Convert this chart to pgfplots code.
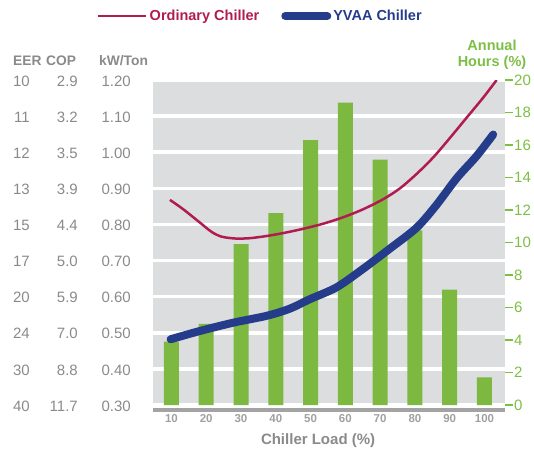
\documentclass[border=0pt]{standalone}
\usepackage{pgfplots}
\pgfplotsset{compat=1.18}
\usepackage{fontspec}
\setmainfont{Liberation Sans}
\definecolor{bggray}{HTML}{DCDDDF}
\definecolor{ordred}{HTML}{B01C50}
\definecolor{yvaablue}{HTML}{253C8A}
\definecolor{bargreen}{HTML}{7DB940}
\definecolor{lblgray}{HTML}{8A8A8A}
\definecolor{xgray}{HTML}{A0A0A0}
\definecolor{axgray}{HTML}{A3A3A3}
\definecolor{hgreen}{HTML}{7DBE45}
\newcommand{\trip}[3]{\makebox[20bp][r]{#1}\makebox[48bp][r]{#2}\makebox[53bp][r]{#3}}
\pgfplotsset{base/.style={at={(0,0)}, anchor=south west, scale only axis, width=352bp, height=330bp, xmin=4.7, xmax=105.9}}
\begin{document}
\begin{tikzpicture}
\useasboundingbox (-153bp,-40bp) rectangle (381bp,410bp);
% background axis with grid and left labels
\begin{axis}[base, ymin=0.28615, ymax=1.2, clip=false,
  axis background/.style={fill=bggray},
  axis line style={draw=none}, major tick length=0pt,
  ytick={0.3,0.4,0.5,0.6,0.7,0.8,0.9,1.0,1.1,1.2},
  yticklabels={\trip{40}{11.7}{0.30},\trip{30}{8.8}{0.40},\trip{24}{7.0}{0.50},\trip{20}{5.9}{0.60},\trip{17}{5.0}{0.70},\trip{15}{4.4}{0.80},\trip{13}{3.9}{0.90},\trip{12}{3.5}{1.00},\trip{11}{3.2}{1.10},\trip{10}{2.9}{1.20}},
  yticklabel style={font=\fontsize{15bp}{18bp}\selectfont, text=lblgray, anchor=east, inner xsep=0pt, xshift=-22bp, yshift=-1bp},
  ymajorgrids, grid style={white, line width=3.5bp},
  xtick={10,20,30,40,50,60,70,80,90,100},
  xticklabels={10,20,30,40,50,60,70,80,90,100},
  xticklabel style={font=\bfseries\fontsize{11.5bp}{13bp}\selectfont, text=xgray, yshift=-1bp},
]
\fill[white] (rel axis cs:0,0) rectangle (axis cs:105.9,0.3);
\draw[axgray, line width=3.8bp] (rel axis cs:0,0) -- (rel axis cs:1,0);
\node[font=\bfseries\fontsize{13.8bp}{16bp}\selectfont, text=lblgray, anchor=west, inner xsep=0pt] at (rel axis cs:0,1) [xshift=-140bp, yshift=19bp] {EER};
\node[font=\bfseries\fontsize{13.8bp}{16bp}\selectfont, text=lblgray, anchor=west, inner xsep=0pt] at (rel axis cs:0,1) [xshift=-107bp, yshift=19bp] {COP};
\node[font=\bfseries\fontsize{13.8bp}{16bp}\selectfont, text=lblgray, anchor=west, inner xsep=0pt] at (rel axis cs:0,1) [xshift=-54bp, yshift=19bp] {kW/Ton};
\node[font=\bfseries\fontsize{15bp}{18bp}\selectfont, text=lblgray] at (rel axis cs:0.469,0) [yshift=-31bp] {Chiller Load (\%)};
\end{axis}
% bars: annual hours
\begin{axis}[base, ymin=-0.3077, ymax=20, hide x axis, clip=false,
  axis y line*=right, axis line style={draw=none},
  ytick={0,2,4,6,8,10,12,14,16,18,20},
  /pgf/number format/assume math mode=true,
  tick style={hgreen, line width=1.3bp}, major tick length=8bp, tick align=outside,
  yticklabel style={text=hgreen, font=\fontsize{15bp}{18bp}\selectfont, inner xsep=1bp},
  ybar, bar width=15bp,
]
\addplot[fill=bargreen, draw=none, bar shift=0pt] coordinates {(10,3.9) (20,5.0) (30,9.9) (40,11.8) (50,16.3) (60,18.6) (70,15.1) (80,10.75) (90,7.1) (100,1.7)};
\node[font=\bfseries\fontsize{14.5bp}{16bp}\selectfont, text=hgreen, align=center] at (rel axis cs:1,1) [xshift=-13bp, yshift=25bp] {Annual\\Hours (\%)};
\end{axis}
% lines
\begin{axis}[base, ymin=0.28615, ymax=1.2, hide axis,
  legend columns=2,
  legend style={at={(-0.159,1.194)}, anchor=west, draw=none, fill=none, inner sep=0pt,
    font=\bfseries\fontsize{14.5bp}{17bp}\selectfont,
    /tikz/every even column/.append style={column sep=20bp}},
]
\addplot[ordred, line width=2.5bp, smooth, legend image code/.code={\draw[ordred, line width=2.5bp] (0bp,0bp) -- (48bp,0bp);}] coordinates {
(9.57,0.868) (13.4,0.842) (18.2,0.805) (21.6,0.779) (24.5,0.766) (28.5,0.761) (32.6,0.762) (37.4,0.768) (42.1,0.776) (47.9,0.788) (53.6,0.802) (59.4,0.820) (65.1,0.842) (70.9,0.870) (75.7,0.900) (80.5,0.940) (85.3,0.986) (90.1,1.040) (94.9,1.096) (99.7,1.152) (103.5,1.200)};
\addlegendentry{\textcolor{ordred}{Ordinary Chiller}}
\addplot[yvaablue, line width=8bp, line cap=round, smooth, legend image code/.code={\draw[yvaablue, line width=8bp, line cap=round] (4bp,0bp) -- (46bp,0bp);}] coordinates {
(9.77,0.482) (18.2,0.505) (27.8,0.528) (37.4,0.547) (44.1,0.567) (49.8,0.593) (57.5,0.626) (65.1,0.677) (72.8,0.733) (80.5,0.791) (86.2,0.854) (92.0,0.928) (97.7,0.989) (102.5,1.049)};
\addlegendentry{\textcolor{yvaablue}{YVAA Chiller}}
\end{axis}
\end{tikzpicture}
\end{document}
